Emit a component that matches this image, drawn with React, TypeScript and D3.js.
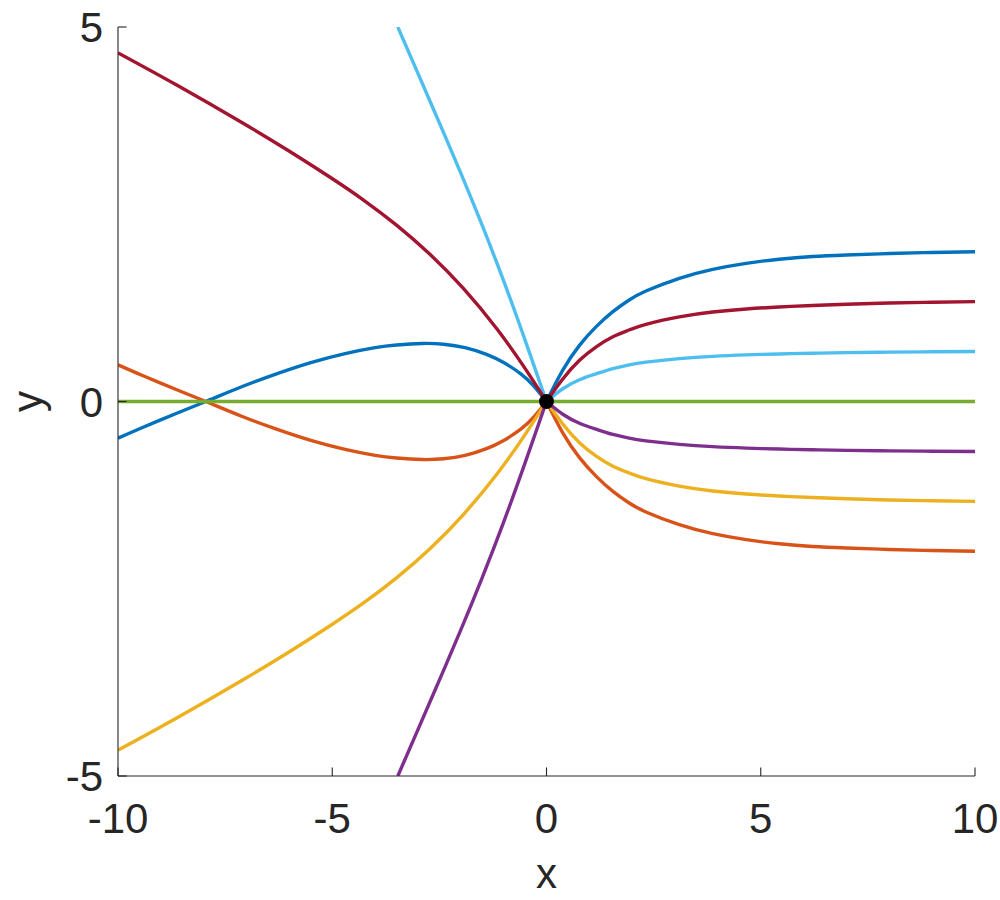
import React from 'react';
import * as d3 from 'd3';

// ---- data ----
const X_TICKS = [-10, -5, 0, 5, 10];
const Y_TICKS = [-5, 0, 5];
const X_DOMAIN = [-10, 10];
const Y_DOMAIN = [-5, 5];

// right-hand branches (x >= 0), shared x samples
const X_RIGHT = [0, 0.38, 0.77, 1.16, 1.55, 1.93, 2.32, 3.1, 3.88, 4.66, 5.43, 6.21, 7, 8, 9, 10];
const BLUE_RIGHT = [0, 0.42, 0.75, 1.0, 1.2, 1.355, 1.475, 1.645, 1.765, 1.845, 1.9, 1.935, 1.955, 1.975, 1.99, 2.0];
const DARKRED_RIGHT = [0, 0.3, 0.55, 0.73, 0.865, 0.955, 1.03, 1.13, 1.195, 1.235, 1.262, 1.282, 1.298, 1.315, 1.325, 1.333];
const LIGHTBLUE_RIGHT = [0, 0.17, 0.29, 0.37, 0.44, 0.49, 0.525, 0.572, 0.603, 0.622, 0.635, 0.645, 0.652, 0.659, 0.664, 0.667];
const ORANGE_RIGHT = [0, -0.42, -0.75, -1.0, -1.2, -1.355, -1.475, -1.645, -1.765, -1.845, -1.9, -1.935, -1.955, -1.975, -1.99, -2.0];
const YELLOW_RIGHT = [0, -0.3, -0.55, -0.73, -0.865, -0.955, -1.03, -1.13, -1.195, -1.235, -1.262, -1.282, -1.298, -1.315, -1.325, -1.333];
const PURPLE_RIGHT = [0, -0.17, -0.29, -0.37, -0.44, -0.49, -0.525, -0.572, -0.603, -0.622, -0.635, -0.645, -0.652, -0.659, -0.664, -0.667];
const GREEN_RIGHT = [0, 0, 0, 0, 0, 0, 0, 0, 0, 0, 0, 0, 0, 0, 0, 0];

// left-hand branches (x <= 0)
const X_LEFT_HUMP = [-10, -9.4, -8.6, -7.95, -7.1, -6.3, -5.5, -4.7, -4.0, -3.5, -2.9, -2.4, -1.9, -1.4, -1.0, -0.6, -0.3, 0];
const BLUE_LEFT = [-0.49, -0.34, -0.15, 0, 0.2, 0.37, 0.52, 0.64, 0.72, 0.755, 0.775, 0.765, 0.72, 0.63, 0.52, 0.37, 0.21, 0];
const ORANGE_LEFT = [0.49, 0.34, 0.15, 0, -0.2, -0.37, -0.52, -0.64, -0.72, -0.755, -0.775, -0.765, -0.72, -0.63, -0.52, -0.37, -0.21, 0];

const X_LEFT_WIDE = [-10, -8.63, -7.08, -6, -5.05, -4.27, -3.5, -2.72, -1.94, -1.16, -0.54, 0];
const DARKRED_LEFT = [4.655, 4.225, 3.715, 3.341, 2.994, 2.69, 2.355, 1.965, 1.509, 0.971, 0.475, 0];
const YELLOW_LEFT = [-4.655, -4.225, -3.715, -3.341, -2.994, -2.69, -2.355, -1.965, -1.509, -0.971, -0.475, 0];

const X_LEFT_STEEP = [-3.47, -3, -2.5, -2, -1.5, -1, -0.5, 0];
const LIGHTBLUE_LEFT = [5.0, 4.38, 3.72, 3.05, 2.35, 1.61, 0.82, 0];
const PURPLE_LEFT = [-5.0, -4.38, -3.72, -3.05, -2.35, -1.61, -0.82, 0];

const X_LEFT_FLAT = [-10, 0];
const GREEN_LEFT = [0, 0];

const SERIES = [
  { name: 'blue', color: '#0072BD', xl: X_LEFT_HUMP, yl: BLUE_LEFT, yr: BLUE_RIGHT },
  { name: 'orange', color: '#D95319', xl: X_LEFT_HUMP, yl: ORANGE_LEFT, yr: ORANGE_RIGHT },
  { name: 'yellow', color: '#EDB120', xl: X_LEFT_WIDE, yl: YELLOW_LEFT, yr: YELLOW_RIGHT },
  { name: 'purple', color: '#7E2F8E', xl: X_LEFT_STEEP, yl: PURPLE_LEFT, yr: PURPLE_RIGHT },
  { name: 'green', color: '#77AC30', xl: X_LEFT_FLAT, yl: GREEN_LEFT, yr: GREEN_RIGHT },
  { name: 'lightblue', color: '#4DBEEE', xl: X_LEFT_STEEP, yl: LIGHTBLUE_LEFT, yr: LIGHTBLUE_RIGHT },
  { name: 'darkred', color: '#A2142F', xl: X_LEFT_WIDE, yl: DARKRED_LEFT, yr: DARKRED_RIGHT },
];

const ORIGIN = { x: 0, y: 0 };

const W = 1000;
const H = 900;
const PLOT = { left: 118, right: 975, top: 27, bottom: 776 };
const FONT = '"Liberation Sans", Arial, Helvetica, sans-serif';
const AXIS_COLOR = '#262626';
const TICK_LEN = 8.6;

export default function App() {
  const x = d3.scaleLinear().domain(X_DOMAIN).range([PLOT.left, PLOT.right]);
  const y = d3.scaleLinear().domain(Y_DOMAIN).range([PLOT.bottom, PLOT.top]);
  const line = d3
    .line<[number, number]>()
    .x((d) => x(d[0]))
    .y((d) => y(d[1]))
    .curve(d3.curveNatural);

  return (
    <svg
      width={W}
      height={H}
      viewBox={`0 0 ${W} ${H}`}
      style={{ position: 'absolute', left: 0, top: 0, background: '#fff' }}
    >
      <defs>
        <clipPath id="plotclip">
          <rect x={PLOT.left} y={PLOT.top} width={PLOT.right - PLOT.left} height={PLOT.bottom - PLOT.top} />
        </clipPath>
      </defs>
      <rect x={0} y={0} width={W} height={H} fill="#fff" />

      <g clipPath="url(#plotclip)" fill="none" strokeWidth={3.4} strokeLinejoin="round" strokeLinecap="butt">
        {SERIES.map((s) => {
          const left = s.xl.map((xv, i) => [xv, s.yl[i]] as [number, number]);
          const right = X_RIGHT.map((xv, i) => [xv, s.yr[i]] as [number, number]);
          return (
            <g key={s.name} stroke={s.color}>
              <path d={line(left) || ''} />
              <path d={line(right) || ''} />
            </g>
          );
        })}
      </g>

      <circle cx={x(ORIGIN.x)} cy={y(ORIGIN.y)} r={7.5} fill="#000" />

      {/* axes */}
      <g stroke={AXIS_COLOR} strokeWidth={1.1} fill="none">
        <line x1={PLOT.left} x2={PLOT.left} y1={PLOT.top} y2={PLOT.bottom} />
        <line x1={PLOT.left} x2={PLOT.right} y1={PLOT.bottom} y2={PLOT.bottom} />
        {X_TICKS.map((t) => (
          <line key={'xt' + t} x1={x(t)} x2={x(t)} y1={PLOT.bottom} y2={PLOT.bottom - TICK_LEN} />
        ))}
        {Y_TICKS.map((t) => (
          <line key={'yt' + t} x1={PLOT.left} x2={PLOT.left + TICK_LEN} y1={y(t)} y2={y(t)} />
        ))}
      </g>

      <g fill={AXIS_COLOR} fontFamily={FONT} fontSize={42}>
        {X_TICKS.map((t) => (
          <text key={'xl' + t} x={x(t)} y={PLOT.bottom + 57} textAnchor="middle">
            {String(t)}
          </text>
        ))}
        {Y_TICKS.map((t) => (
          <text key={'yl' + t} x={PLOT.left - 15} y={y(t) + 15} textAnchor="end">
            {String(t)}
          </text>
        ))}
        <text x={(PLOT.left + PLOT.right) / 2} y={888} textAnchor="middle">
          x
        </text>
        <text transform={`translate(41.5, ${(PLOT.top + PLOT.bottom) / 2}) rotate(-90)`} textAnchor="middle">
          y
        </text>
      </g>
    </svg>
  );
}
